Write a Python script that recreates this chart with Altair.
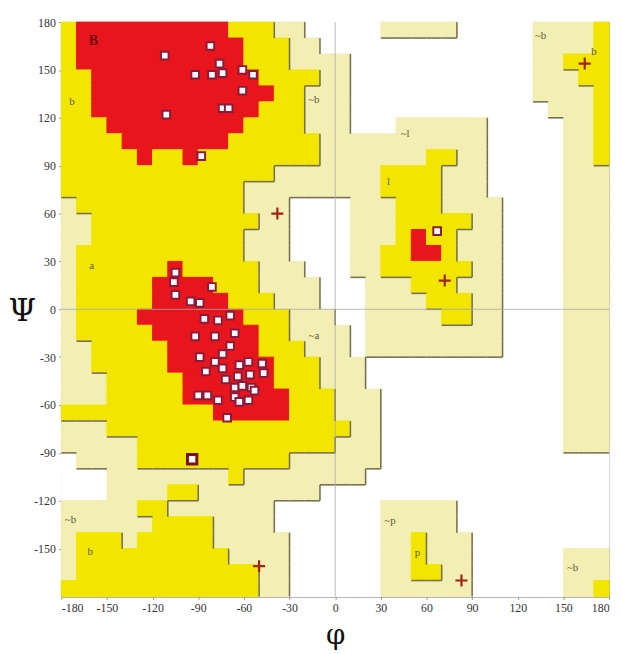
import altair as alt
import pandas as pd

# Region grid, 10-degree cells, rows from psi 180 (top) down to psi -180.
# Run-length coded: R core, Y allowed, G generous, W disallowed; each row covers phi -180..180.
ROWS = [
    "Y1 R10 Y3 G2 W5 G5 W5 G4 Y1",
    "Y1 R11 Y3 G2 W14 G4 Y1",
    "Y1 R11 Y3 G4 W12 G2 Y3",
    "Y2 R11 Y4 G2 W12 G3 Y2",
    "Y2 R12 Y2 G3 W12 G4 Y1",
    "Y2 R11 Y3 G3 W13 G3 Y1",
    "Y3 R9 Y4 G3 W3 G6 W5 G2 Y1",
    "Y4 R7 Y6 G11 W5 G2 Y1",
    "Y5 R1 Y2 R1 Y8 G7 Y2 G2 W5 G2 Y1",
    "Y14 G7 Y4 G3 W5 G3",
    "Y12 G9 Y4 G3 W5 G3",
    "G1 Y11 G3 W4 G3 Y3 G4 W4 G3",
    "G2 Y11 G2 W4 G3 Y5 G2 W4 G3",
    "G2 Y10 G3 W4 G3 Y1 R1 Y2 G3 W4 G3",
    "G1 Y11 G3 W4 G2 Y2 R2 Y1 G3 W4 G3",
    "G1 Y6 R1 Y5 G3 W3 G2 Y6 G2 W4 G3",
    "G1 Y5 R4 Y3 G4 W3 G3 Y3 G3 W4 G3",
    "G1 Y5 R5 Y3 G3 W3 G4 Y3 G2 W4 G3",
    "G1 Y4 R7 Y3 G3 W2 G5 Y2 G2 W4 G3",
    "G1 Y5 R7 Y2 G4 W1 G9 W4 G3",
    "G2 Y5 R6 Y3 G3 W1 G9 W4 G3",
    "G2 Y5 R7 Y3 G3 W13 G3",
    "G3 Y5 R6 Y3 G3 W13 G3",
    "G3 Y5 R7 Y3 G3 W12 G3",
    "Y10 R5 Y3 G3 W12 G3",
    "G3 Y16 G2 W12 G3",
    "G5 Y13 G3 W12 G3",
    "W1 G4 Y10 G6 W15",
    "W3 G8 Y1 G8 W16",
    "W3 G4 Y2 G8 W19",
    "G5 Y2 G7 W7 G5 W10",
    "G6 Y4 G4 W7 G5 W10",
    "G1 Y3 G1 Y5 G5 W6 G2 Y1 G3 W9",
    "G1 Y10 G4 W6 G2 Y1 G3 W6 G3",
    "G1 Y12 G2 W6 G2 Y2 G2 W6 G3",
    "Y13 G2 W6 G6 W6 G2 Y1",
]

# residues (white squares)
SQ_PHI = [-112, -82, -76, -92, -81, -74, -61, -54, -61, -74, -70, -111, -88,
          -105, -106, -105, -81, -95, -89, -86, -77, -69, -92, -79, -66, -69,
          -89, -74, -79, -85, -74, -63, -57, -48, -64, -72, -66, -56, -47, -55,
          -61, -90, -84, -77, -66, -63, -57, -53, -71, 67]
SQ_PSI = [159, 165, 154, 147, 147, 148, 150, 147, 137, 126, 126, 122, 96,
          23, 17, 9, 14, 5, 4, -6, -7, -4, -17, -17, -15, -23,
          -30, -28, -33, -39, -37, -35, -33, -34, -42, -44, -49, -41, -40, -49,
          -48, -54, -54, -57, -55, -58, -57, -51, -68, 49]
# highlighted residue
HI_PHI = [-94]
HI_PSI = [-94]
# glycines (crosses)
GLY_PHI = [-38, 72, 164, -50, 83]
GLY_PSI = [60, 18, 154, -161, -170]
# region labels
LAB_TXT = ["b", "a", "~b", "~a", "~l", "l", "~b", "b", "~p", "p", "~b", "b", "~b"]
LAB_PHI = [-173, -160, -14, -14, 46, 35, 135, 170, 36, 54, -174, -161, 156]
LAB_PSI = [130, 27, 131, -17, 110, 80, 171, 161, -133, -153, -132, -152, -162]
CORE_TXT = ["B"]
CORE_PHI = [-159]
CORE_PSI = [168]

TICKS = [-180, -150, -120, -90, -60, -30, 0, 30, 60, 90, 120, 150, 180]
YTICKS = [-150, -120, -90, -60, -30, 0, 30, 60, 90, 120, 150, 180]


def expand(rle):
    out = []
    for tok in rle.split():
        out += [tok[0]] * int(tok[1:])
    assert len(out) == 36, (rle, len(out))
    return out


grid = [expand(r) for r in ROWS]

# one rectangle per horizontal run of equal cells
runs = []
for j, rle in enumerate(ROWS):
    i = 0
    for tok in rle.split():
        n = int(tok[1:])
        runs.append(dict(phi0=-180 + 10 * i, phi1=-180 + 10 * (i + n),
                         psi0=170 - 10 * j, psi1=180 - 10 * j, region=tok[0]))
        i += n
runs_df = pd.DataFrame(runs)

LEVEL = {"W": 0, "G": 1, "Y": 2, "R": 3}
edges = []
for j in range(36):
    for i in range(35):
        a, b = grid[j][i], grid[j][i + 1]
        if "R" not in (a, b) and LEVEL[a] > LEVEL[b]:
            x = -170 + 10 * i
            edges.append(dict(x=x, x2=x, y=170 - 10 * j, y2=180 - 10 * j))
for j in range(35):
    for i in range(36):
        a, b = grid[j][i], grid[j + 1][i]
        if "R" not in (a, b) and LEVEL[a] > LEVEL[b]:
            y = 170 - 10 * j
            edges.append(dict(x=-180 + 10 * i, x2=-170 + 10 * i, y=y, y2=y))
edges_df = pd.DataFrame(edges)

xs = alt.Scale(domain=[-180, 180], nice=False, zero=False)
ys = alt.Scale(domain=[-180, 180], nice=False, zero=False)
cscale = alt.Scale(domain=["R", "Y", "G", "W"],
                   range=["#e8161c", "#f2e600", "#f3efb4", "#ffffff"])

xaxis = alt.Axis(values=TICKS, title="φ", labelExpr="'' + datum.value",
                 labelFont="Liberation Serif", labelFontSize=12, labelColor="#333",
                 tickSize=3, tickColor="#999", domainColor="#999", grid=False,
                 labelPadding=3, titleFont="DejaVu Serif", titleFontSize=28,
                 titleFontWeight="normal", titleColor="#111", titlePadding=9)
yaxis = alt.Axis(values=YTICKS, title="Ψ", labelExpr="'' + datum.value",
                 labelFont="Liberation Serif", labelFontSize=12, labelColor="#333",
                 tickSize=3, tickColor="#999", domainColor="#999", grid=False,
                 labelPadding=3, titleFont="DejaVu Serif", titleFontSize=32,
                 titleFontWeight="normal", titleColor="#111", titleAngle=0,
                 titleX=-40, titleY=292, titleAlign="center", titleBaseline="middle")


def X(f):
    return alt.X(f, scale=xs, axis=xaxis)


def Y(f):
    return alt.Y(f, scale=ys, axis=yaxis)


rects = alt.Chart(runs_df).mark_rect(strokeWidth=1).encode(
    x=X("phi0:Q"), x2="phi1", y=Y("psi0:Q"), y2="psi1",
    color=alt.Color("region:N", scale=cscale, legend=None),
    stroke=alt.Stroke("region:N", scale=cscale, legend=None),
)

borders = alt.Chart(edges_df).mark_rule(color="#77714f", strokeWidth=1.6).encode(
    x=X("x:Q"), x2="x2", y=Y("y:Q"), y2="y2")

zero_df = pd.DataFrame({"v": [0]})
vline = alt.Chart(zero_df).mark_rule(color="#a8a8a8", strokeWidth=1, opacity=0.8).encode(
    x=X("v:Q"))
hline = alt.Chart(zero_df).mark_rule(color="#a8a8a8", strokeWidth=1, opacity=0.8).encode(
    y=Y("v:Q"))

lab_df = pd.DataFrame({"t": LAB_TXT, "phi": LAB_PHI, "psi": LAB_PSI})
labels = alt.Chart(lab_df).mark_text(font="Liberation Serif", fontSize=11,
                                     color="#5b5836").encode(
    x=X("phi:Q"), y=Y("psi:Q"), text="t:N")

core_df = pd.DataFrame({"t": CORE_TXT, "phi": CORE_PHI, "psi": CORE_PSI})
core_lab = alt.Chart(core_df).mark_text(font="Liberation Serif", fontSize=14,
                                        fontWeight="bold", color="#6a0a0a").encode(
    x=X("phi:Q"), y=Y("psi:Q"), text="t:N")

gly_df = pd.DataFrame({"phi": GLY_PHI, "psi": GLY_PSI})
crosses = alt.Chart(gly_df).mark_point(shape="M-1,0L1,0M0,-1L0,1", size=150,
                                       filled=False, stroke="#a3211c",
                                       strokeWidth=2.2, opacity=1).encode(
    x=X("phi:Q"), y=Y("psi:Q"))

sq_df = pd.DataFrame({"phi": SQ_PHI, "psi": SQ_PSI})
squares = alt.Chart(sq_df).mark_square(size=60, fill="#fff6fa", stroke="#8b1a3a",
                                       strokeWidth=2, opacity=1).encode(
    x=X("phi:Q"), y=Y("psi:Q"))

hi_df = pd.DataFrame({"phi": HI_PHI, "psi": HI_PSI})
hi = alt.Chart(hi_df).mark_square(size=90, fill="#fff6fa", stroke="#7a1020",
                                  strokeWidth=3, opacity=1).encode(
    x=X("phi:Q"), y=Y("psi:Q"))

chart = alt.layer(rects, borders, vline, hline, labels, core_lab, crosses, squares, hi).properties(
    width=555, height=582,
    autosize=alt.AutoSizeParams(type="none"),
    padding={"left": 54, "top": 10, "right": 5, "bottom": 54},
).configure_view(stroke="#a0a0a0", strokeWidth=1)

chart.save("out.html", embed_options={"renderer": "svg", "actions": False})
